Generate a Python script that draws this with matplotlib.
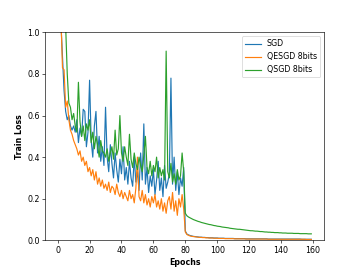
import matplotlib
matplotlib.use("Agg")
import matplotlib.pyplot as plt

# train loss per epoch
sgd_head = [1.45, 1.25, 1.05, 0.88, 0.72, 0.62, 0.58, 0.60, 0.55, 0.53,
            0.55, 0.52, 0.58, 0.47, 0.54, 0.50, 0.63, 0.62, 0.45, 0.52,
            0.77, 0.48, 0.40, 0.55, 0.62, 0.42, 0.50, 0.38, 0.45, 0.36,
            0.64, 0.40, 0.33, 0.46, 0.37, 0.30, 0.42, 0.34, 0.28, 0.39,
            0.32, 0.45, 0.29, 0.35, 0.27, 0.38, 0.30, 0.26, 0.40, 0.28,
            0.33, 0.24, 0.42, 0.29, 0.56, 0.27, 0.35, 0.23, 0.31, 0.26,
            0.34, 0.22, 0.29, 0.38, 0.24, 0.30, 0.21, 0.36, 0.25, 0.28,
            0.32, 0.78, 0.27, 0.40, 0.24, 0.33, 0.22, 0.30, 0.26, 0.35]
sgd_tail = [0.045, 0.030, 0.026, 0.023, 0.021, 0.019, 0.018, 0.017, 0.016, 0.015,
            0.015, 0.014, 0.014, 0.013, 0.013, 0.012, 0.012, 0.012, 0.011, 0.011,
            0.011, 0.010, 0.010, 0.010, 0.010, 0.009, 0.009, 0.009, 0.009, 0.009,
            0.009, 0.008, 0.008, 0.008, 0.008, 0.008, 0.008, 0.008, 0.007, 0.007,
            0.007, 0.007, 0.007, 0.007, 0.007, 0.007, 0.007, 0.007, 0.007, 0.007,
            0.007, 0.007, 0.006, 0.006, 0.006, 0.006, 0.006, 0.006, 0.006, 0.006,
            0.006, 0.006, 0.006, 0.006, 0.006, 0.006, 0.006, 0.006, 0.006, 0.006,
            0.006, 0.006, 0.006, 0.005, 0.005, 0.005, 0.005, 0.005, 0.005, 0.005]

qesgd_head = [1.60, 1.35, 1.08, 0.83, 0.82, 0.64, 0.67, 0.58, 0.53, 0.51,
              0.48, 0.46, 0.44, 0.41, 0.43, 0.38, 0.40, 0.36, 0.38, 0.33,
              0.35, 0.31, 0.34, 0.29, 0.33, 0.27, 0.30, 0.26, 0.29, 0.25,
              0.27, 0.24, 0.28, 0.23, 0.26, 0.25, 0.22, 0.27, 0.23, 0.21,
              0.24, 0.20, 0.23, 0.21, 0.19, 0.24, 0.20, 0.22, 0.18, 0.25,
              0.40, 0.21, 0.19, 0.24, 0.18, 0.22, 0.17, 0.20, 0.16, 0.21,
              0.18, 0.22, 0.16, 0.19, 0.15, 0.20, 0.14, 0.18, 0.13, 0.19,
              0.21, 0.15, 0.23, 0.14, 0.19, 0.12, 0.20, 0.16, 0.22, 0.15]
qesgd_tail = [0.040, 0.028, 0.024, 0.021, 0.019, 0.018, 0.017, 0.016, 0.015, 0.014,
              0.014, 0.013, 0.013, 0.012, 0.012, 0.011, 0.011, 0.011, 0.010, 0.010,
              0.010, 0.009, 0.009, 0.009, 0.009, 0.008, 0.008, 0.008, 0.008, 0.008,
              0.008, 0.007, 0.007, 0.007, 0.007, 0.007, 0.007, 0.007, 0.006, 0.006,
              0.006, 0.006, 0.006, 0.006, 0.006, 0.006, 0.006, 0.006, 0.006, 0.006,
              0.006, 0.006, 0.005, 0.005, 0.005, 0.005, 0.005, 0.005, 0.005, 0.005,
              0.005, 0.005, 0.005, 0.005, 0.005, 0.005, 0.005, 0.005, 0.005, 0.005,
              0.005, 0.005, 0.005, 0.005, 0.005, 0.005, 0.004, 0.004, 0.004, 0.004]

qsgd_head = [1.90, 1.70, 1.50, 1.30, 1.15, 1.03, 0.80, 0.66, 0.64, 0.58,
             0.61, 0.55, 0.52, 0.76, 0.57, 0.50, 0.55, 0.48, 0.56, 0.53,
             0.58, 0.47, 0.52, 0.44, 0.50, 0.46, 0.40, 0.48, 0.43, 0.42,
             0.40, 0.44, 0.38, 0.42, 0.45, 0.39, 0.53, 0.41, 0.44, 0.60,
             0.42, 0.38, 0.45, 0.40, 0.36, 0.51, 0.39, 0.35, 0.42, 0.37,
             0.34, 0.40, 0.36, 0.33, 0.41, 0.50, 0.35, 0.32, 0.38, 0.31,
             0.36, 0.33, 0.40, 0.30, 0.35, 0.31, 0.34, 0.29, 0.91, 0.33,
             0.30, 0.37, 0.28, 0.32, 0.27, 0.34, 0.29, 0.31, 0.42, 0.33]
qsgd_tail = [0.130, 0.118, 0.112, 0.108, 0.104, 0.100, 0.097, 0.094, 0.091, 0.089,
             0.086, 0.084, 0.082, 0.080, 0.078, 0.076, 0.075, 0.073, 0.071, 0.070,
             0.068, 0.067, 0.066, 0.064, 0.063, 0.062, 0.061, 0.060, 0.058, 0.057,
             0.056, 0.055, 0.054, 0.053, 0.053, 0.052, 0.051, 0.050, 0.049, 0.048,
             0.047, 0.046, 0.046, 0.045, 0.044, 0.044, 0.043, 0.042, 0.042, 0.041,
             0.040, 0.040, 0.039, 0.039, 0.038, 0.038, 0.037, 0.037, 0.037, 0.036,
             0.036, 0.035, 0.035, 0.035, 0.034, 0.034, 0.034, 0.034, 0.033, 0.033,
             0.033, 0.033, 0.032, 0.032, 0.032, 0.032, 0.032, 0.031, 0.031, 0.031]

sgd = sgd_head + sgd_tail
qesgd = qesgd_head + qesgd_tail
qsgd = qsgd_head + qsgd_tail
epochs = list(range(len(sgd)))

fig = plt.figure(figsize=(6.4, 4.8), dpi=56.25)
plt.plot(epochs, sgd, label="SGD")
plt.plot(epochs, qesgd, label="QESGD 8bits")
plt.plot(epochs, qsgd, label="QSGD 8bits")
plt.ylim(0, 1)
plt.xlabel("Epochs", fontweight="bold")
plt.ylabel("Train Loss", fontweight="bold")
plt.legend(loc="upper right")
plt.savefig("out.png", dpi=56.25)
